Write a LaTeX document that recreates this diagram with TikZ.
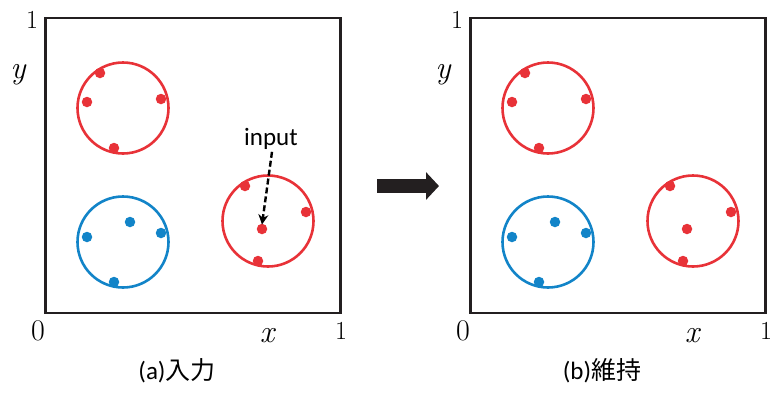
\documentclass[tikz,border=0pt]{standalone}
\usepackage{fontspec}
\newfontfamily\jfont{Noto Sans CJK JP}
\newfontfamily\cfont{Carlito}
\usetikzlibrary{arrows.meta,positioning}
\definecolor{kred}{RGB}{232,50,56}
\definecolor{kblue}{RGB}{18,132,200}
\definecolor{kblack}{RGB}{35,31,32}
\tikzset{
  frm/.style={draw=kblack,line width=2.8pt,minimum size=295pt,inner sep=0pt},
  clu/.style={circle,draw,line width=2.6pt,minimum size=91pt,inner sep=0pt},
  dot/.style={circle,fill,inner sep=0pt,minimum size=10.5pt},
  lab/.style={inner sep=0pt,font=\fontsize{26}{28}\selectfont},
  var/.style={inner sep=0pt,font=\fontsize{32}{34}\selectfont\itshape},
  cpt/.style={inner sep=0pt,font=\fontsize{25}{28}\selectfont},
  dsh/.style={line width=2.4pt,dash pattern=on 6pt off 3pt,-{Stealth[length=10pt,width=10pt]}},
  bigarr/.style={kblack,line width=14pt,-{Triangle[length=13pt,width=27pt]}},
}

\begin{document}
\begin{tikzpicture}[x=1pt,y=-1pt]
  \useasboundingbox (0,0) rectangle (774,392);
  \foreach \o/\nm/\cp in {0/a/入力,425/b/維持} {
    \node[frm] (box\nm) at (193+\o,165.5) {};
    \node[lab] (one\nm) at (32+\o,20) {1};
    \node[var] (y\nm) at (18+\o,75) {y};
    \node[lab,font=\fontsize{30}{32}\selectfont] (zero\nm) at (38+\o,331) {0};
    \node[var] (x\nm) at (267+\o,336) {x};
    \node[lab] (onx\nm) at (341+\o,331) {1};
    \node[cpt] (cap\nm) at (177+\o,371) {{\cfont(\nm)}{\jfont\cp}};
    % clusters
    \node[clu,kred] (ca\nm) at (123+\o,108) {};
    \node[clu,kblue] (cb\nm) at (123+\o,242) {};
    \node[clu,kred] (cc\nm) at (268+\o,221) {};
    \foreach \dx/\dy [count=\i] in {100/73,87/102,161/99,114/148}
      \node[dot,kred] (pa\nm\i) at (\dx+\o,\dy) {};
    \foreach \dx/\dy [count=\i] in {87/237,130/222,161/233,114/282}
      \node[dot,kblue] (pb\nm\i) at (\dx+\o,\dy) {};
    \foreach \dx/\dy [count=\i] in {245/186,306/212,262/229,258/261}
      \node[dot,kred] (pc\nm\i) at (\dx+\o,\dy) {};
  }
  \node[cpt,font=\cfont\fontsize{25}{28}\selectfont] (inp) at (271,139) {input};
  \draw[dsh] (inp.south) ++(1,2) -- ([yshift=-1pt]pca3.north);
  \coordinate (arA) at (377,186);
  \coordinate (arB) at (439,186);
  \draw[bigarr] (arA) -- (arB);
\end{tikzpicture}
\end{document}
